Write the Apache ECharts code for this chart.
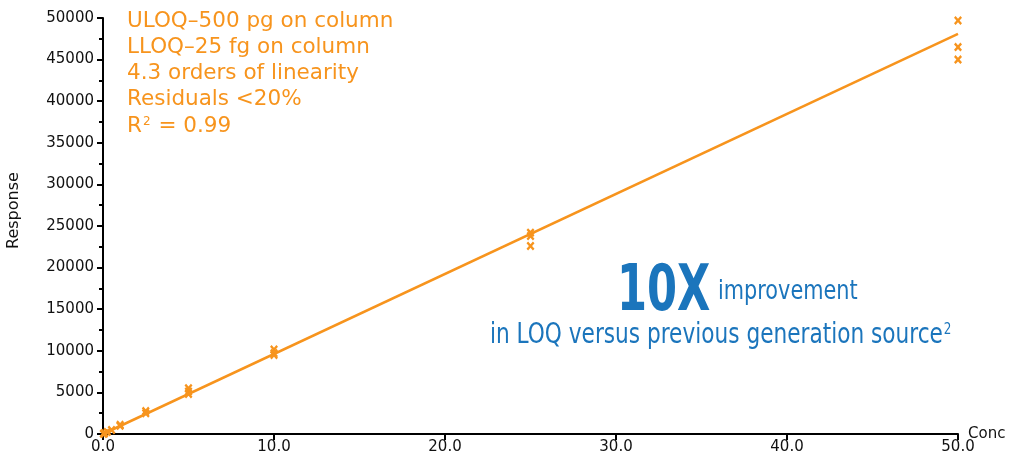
<!DOCTYPE html>
<html>
<head>
<meta charset="utf-8">
<script src="https://cdn.jsdelivr.net/npm/echarts@6/dist/echarts.min.js"></script>
<style>
  html, body { margin: 0; padding: 0; background: #fff; }
  #chart { width: 1011px; height: 464px; }
</style>
</head>
<body>
<div id="chart"></div>
<script>
// Calibration standards: concentration and measured response (replicate injections)
const concLevels = [0.025, 0.05, 0.1, 0.25, 0.5, 1.0, 1.0, 2.5, 2.5, 5.0, 5.0, 5.0, 10.0, 10.0, 10.0, 25.0, 25.0, 25.0, 50.0, 50.0, 50.0];
const responses  = [25, 50, 100, 250, 480, 1100, 980, 2750, 2500, 5500, 5100, 4800, 10150, 9700, 9500, 24200, 23800, 22600, 49700, 46500, 45000];

// Linear fit end points
const fitConc = [0, 50];
const fitResponse = [0, 48100];

// Axis ticks
const xTicks = [0, 10, 20, 30, 40, 50];
const yTicks = [0, 5000, 10000, 15000, 20000, 25000, 30000, 35000, 40000, 45000, 50000];

// Annotation text
const statLines = ['ULOQ\u2013500 pg on column', 'LLOQ\u201325 fg on column', '4.3 orders of linearity', 'Residuals <20%'];

const ORANGE = '#f7941d';
const BLUE = '#1b75bc';
const crossPath = 'path://M0,2L2,0L5,3L8,0L10,2L7,5L10,8L8,10L5,7L2,10L0,8L3,5Z';

const points = concLevels.map((c, i) => [c, responses[i]]);
const fitLine = fitConc.map((c, i) => [c, fitResponse[i]]);

const chart = echarts.init(document.getElementById('chart'));
const axisFont = { fontFamily: 'DejaVu Sans', fontSize: 15, color: '#111' };
const narrow = '"Liberation Sans Narrow", "DejaVu Sans Condensed", "Roboto"';
const statFont = '21.5px "DejaVu Sans"';
const lineStep = 26.3;

const statGraphics = statLines.map((t, i) => ({
  type: 'text', left: 127, top: 10 + i * lineStep,
  style: { text: t, fill: ORANGE, font: statFont }
}));

chart.setOption({
  animation: false,
  grid: { left: 103, right: 53, top: 18, bottom: 30, outerBoundsMode: 'none', containLabel: false },
  xAxis: {
    type: 'value', min: xTicks[0], max: xTicks[xTicks.length - 1], interval: 10,
    axisLine: { show: true, lineStyle: { color: '#000', width: 2 } },
    axisTick: { show: true, inside: false, length: 6, lineStyle: { color: '#000', width: 2 } },
    axisLabel: { ...axisFont, margin: 6, formatter: v => v.toFixed(1) },
    splitLine: { show: false }
  },
  yAxis: {
    type: 'value', min: yTicks[0], max: yTicks[yTicks.length - 1], interval: 5000,
    axisLine: { show: true, lineStyle: { color: '#000', width: 2 } },
    axisTick: { show: true, length: 6, lineStyle: { color: '#000', width: 2 } },
    minorTick: { show: true, splitNumber: 2, length: 4, lineStyle: { color: '#000', width: 2 } },
    axisLabel: { ...axisFont, margin: 9, formatter: v => String(v) },
    splitLine: { show: false }
  },
  graphic: [
    {
      type: 'text', x: 6, y: 249, rotation: Math.PI / 2,
      style: { text: 'Response', fill: '#111', font: '16px "DejaVu Sans"', textVerticalAlign: 'top' }
    },
    {
      type: 'text', left: 968, top: 427,
      style: { text: 'Conc', fill: '#111', font: '15px "DejaVu Sans"' }
    },
    ...statGraphics,
    {
      type: 'text', left: 127, top: 10 + 4 * lineStep,
      style: {
        text: '{r|R}{s|2}{r| = 0.99}',
        rich: {
          r: { fill: ORANGE, font: statFont },
          s: { fill: ORANGE, font: '12px "DejaVu Sans"', padding: [0, 1, 9, 1] }
        }
      }
    },
    {
      type: 'text', x: 617, y: 261, scaleX: 0.75,
      style: { text: '10X', fill: BLUE, font: 'bold 64px ' + narrow }
    },
    {
      type: 'text', x: 718, y: 279, scaleX: 0.89,
      style: { text: 'improvement', fill: BLUE, font: '26px ' + narrow }
    },
    {
      type: 'text', x: 490, y: 321, scaleX: 0.83,
      style: {
        text: '{t|in LOQ versus previous generation source}{s|2}',
        rich: {
          t: { fill: BLUE, font: '29px ' + narrow },
          s: { fill: BLUE, font: '16px ' + narrow, padding: [0, 0, 12, 1] }
        }
      }
    }
  ],
  series: [
    {
      type: 'line', data: fitLine, showSymbol: false, symbol: 'none',
      lineStyle: { color: ORANGE, width: 2.5 }, z: 2
    },
    {
      type: 'scatter', data: points, symbol: crossPath, symbolSize: [8, 9],
      itemStyle: { color: ORANGE, opacity: 1 }, z: 3
    }
  ]
});
</script>
</body>
</html>
